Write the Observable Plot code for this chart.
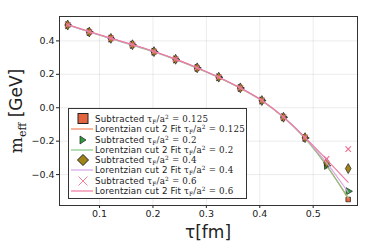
<!DOCTYPE html>
<html><head><meta charset="utf-8">
<script src="https://cdn.jsdelivr.net/npm/d3@7"></script>
<script src="https://cdn.jsdelivr.net/npm/@observablehq/plot@0.6"></script>
<style>
body{margin:0;background:#fff;}
#wrap{position:relative;width:374px;height:249px;font-family:"DejaVu Sans",sans-serif;}
#legend{position:absolute;left:68px;top:108px;width:179px;height:91px;border:1px solid #333;background:#fff;box-sizing:border-box;}
.row{position:absolute;left:0;height:10px;font-size:8.7px;line-height:10px;white-space:nowrap;color:#222;letter-spacing:0.15px;}
.row svg{position:absolute;left:0;top:0;}
.row span.t{position:absolute;left:26px;top:0;}
.m{font-family:"DejaVu Serif","Liberation Serif",serif;font-size:8.7px;letter-spacing:0.2px;}
.m sub{font-size:5.8px;vertical-align:-2px;line-height:0}
.m sup{font-size:5.8px;vertical-align:3px;line-height:0}
</style></head>
<body><div id="wrap"><div id="chart"></div><div id="legend"></div></div>
<script>
const tau = [0.0404,0.0808,0.1212,0.1616,0.202,0.2424,0.2828,0.3232,0.3636,0.404,0.4444,0.4848,0.5252,0.5656];
const flowTimes = ["0.125","0.2","0.4","0.6"];
const sub0125 = [0.496,0.454,0.416,0.378,0.336,0.290,0.239,0.183,0.119,0.043,-0.057,-0.180,-0.336,-0.549];
const sub02   = [0.494,0.453,0.414,0.376,0.335,0.289,0.238,0.182,0.118,0.043,-0.057,-0.181,-0.347,-0.500];
const sub04   = [0.495,0.453,0.415,0.377,0.336,0.290,0.239,0.183,0.119,0.043,-0.057,-0.179,-0.330,-0.364];
const sub06   = [0.496,0.454,0.416,0.378,0.336,0.290,0.239,0.183,0.119,0.044,-0.056,-0.178,-0.306,-0.248];
const fit0125 = [0.497,0.455,0.415,0.377,0.336,0.290,0.238,0.181,0.117,0.042,-0.058,-0.183,-0.345,-0.545];
const fit02   = [0.495,0.453,0.413,0.374,0.333,0.287,0.236,0.180,0.117,0.042,-0.058,-0.184,-0.348,-0.538];
const fit04   = [0.497,0.455,0.415,0.377,0.336,0.290,0.239,0.182,0.118,0.043,-0.057,-0.180,-0.330,-0.506];
const fit06   = [0.498,0.456,0.416,0.378,0.337,0.291,0.240,0.183,0.119,0.044,-0.055,-0.177,-0.310,-0.446];
const xTicks = [0.1,0.2,0.3,0.4,0.5];
const yTicks = [-0.4,-0.2,0.0,0.2,0.4];

const subs = [sub0125, sub02, sub04, sub06];
const fits = [fit0125, fit02, fit04, fit06];
const markerFill = ["#e2653f","#2e9a3e","#a08418","#f07090"];
const lineColor = ["#f4845c","#86c886","#d6a6e6","#ef78a0"];
const symbols = ["square","triangle","diamond","times"];
const rotates = [0,90,0,0];
const sizes = [2.6,2.7,3.0,2.6];

const marks = [
  Plot.gridX(xTicks,{stroke:"#000",strokeOpacity:0.08}),
  Plot.gridY(yTicks,{stroke:"#000",strokeOpacity:0.08}),
];
subs.forEach((s,i)=>{
  const pts = tau.map((t,j)=>({t, v:s[j]}));
  const fp = tau.map((t,j)=>({t, v:fits[i][j]}));
  if (symbols[i]==="times") {
    marks.push(Plot.dot(pts,{x:"t",y:"v",symbol:"times",r:sizes[i],stroke:markerFill[i],strokeWidth:1.2}));
  } else {
    marks.push(Plot.dot(pts,{x:"t",y:"v",symbol:symbols[i],r:sizes[i],fill:markerFill[i],stroke:"#222",strokeWidth:0.7,rotate:rotates[i]}));
  }
  marks.push(Plot.line(fp,{x:"t",y:"v",stroke:lineColor[i],strokeWidth:1.1,curve:"catmull-rom"}));
});
marks.push(
  Plot.axisX(xTicks,{tickFormat:d3.format(".1f"),tickSize:3,tickPadding:2,fontSize:9.5,label:null}),
  Plot.axisY(yTicks,{tickFormat:d=>d3.format(".1f")(d).replace("-","\u2212"),tickSize:3,tickPadding:2,fontSize:9.5,label:null}),
  Plot.frame({stroke:"#333",strokeWidth:1})
);
const chart = Plot.plot({
  width:374,height:249,
  marginLeft:59,marginRight:17,marginTop:16,marginBottom:44,
  x:{domain:[0.025,0.583]},
  y:{domain:[-0.585,0.546]},
  style:{fontFamily:"DejaVu Sans, sans-serif",color:"#222",background:"#fff"},
  marks
});
document.getElementById("chart").appendChild(chart);
const svg = d3.select(chart);
svg.append("text").attr("x",208).attr("y",238).attr("text-anchor","middle")
  .attr("font-size",17).attr("font-family","DejaVu Sans, sans-serif").attr("fill","#222").text("τ[fm]");
const yl = svg.append("text").attr("transform","translate(22,111) rotate(-90)").attr("text-anchor","middle")
  .attr("font-size",17).attr("fill","#222");
yl.append("tspan").attr("font-family","DejaVu Serif, serif").text("m");
yl.append("tspan").attr("font-family","DejaVu Serif, serif").attr("font-size",11).attr("dy",4).text("eff");
yl.append("tspan").attr("font-family","DejaVu Sans, sans-serif").attr("dy",-4).text(" [GeV]");

// legend
const leg = document.getElementById("legend");
const math = ft => `<span class="m">τ<sub>F</sub>/a<sup>2</sup> = ${ft}</span>`;
flowTimes.forEach((ft,i)=>{
  const r1 = document.createElement("div");
  r1.className="row"; r1.style.top=(5+i*20.5)+"px";
  let icon;
  if (i===0) icon = `<rect x="9" y="-0.5" width="10" height="10" fill="${markerFill[0]}" stroke="#222" stroke-width="1"/>`;
  else if (i===1) icon = `<path d="M11,1 L17,5 L11,9 Z" fill="${markerFill[1]}" stroke="#222" stroke-width="0.7"/>`;
  else if (i===2) icon = `<path d="M14,-0.5 L19.5,5 L14,10.5 L8.5,5 Z" fill="${markerFill[2]}" stroke="#222" stroke-width="1"/>`;
  else icon = `<path d="M9.5,0.5 L18.5,9.5 M18.5,0.5 L9.5,9.5" stroke="${markerFill[3]}" stroke-width="0.9"/>`;
  r1.innerHTML = `<svg width="26" height="11" overflow="visible">${icon}</svg><span class="t">Subtracted ${math(ft)}</span>`;
  leg.appendChild(r1);
  const r2 = document.createElement("div");
  r2.className="row"; r2.style.top=(15.3+i*20.5)+"px";
  r2.innerHTML = `<svg width="26" height="10"><line x1="2" x2="24" y1="5" y2="5" stroke="${lineColor[i]}" stroke-width="1.2"/></svg><span class="t">Lorentzian cut 2 Fit ${math(ft)}</span>`;
  leg.appendChild(r2);
});
</script></body></html>
